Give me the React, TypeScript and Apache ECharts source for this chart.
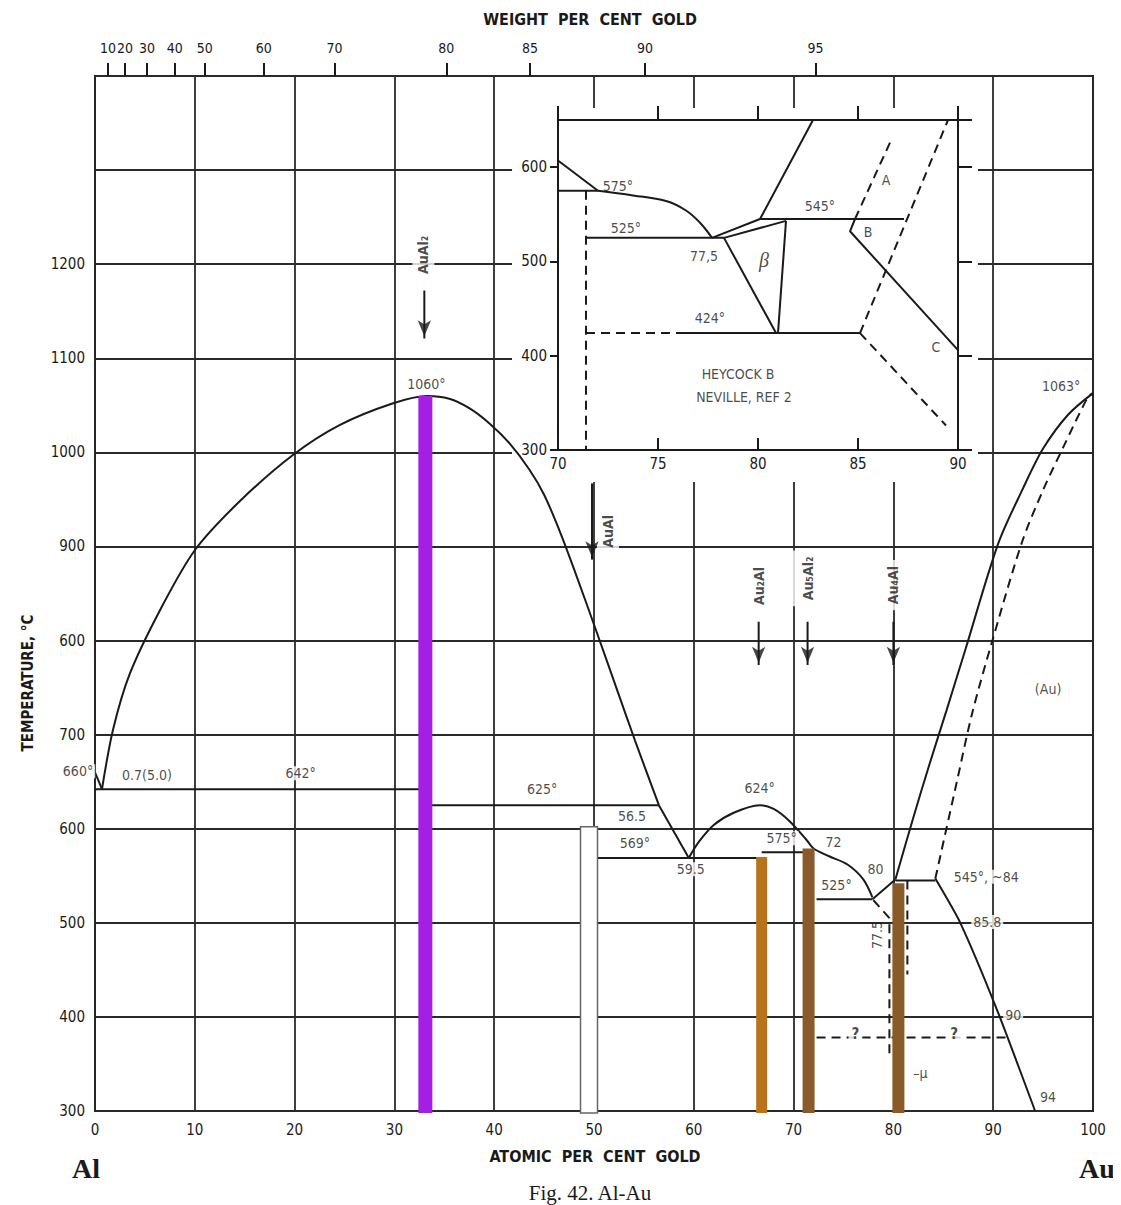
import React, { useEffect, useRef } from "react";
import * as echarts from "echarts";

const INK = "#1a1a1a";
const FONT = "'DejaVu Sans Condensed','DejaVu Sans',sans-serif";

// ---------- axes ----------
const yTickValues = [300, 400, 500, 600, 700, 800, 900, 1000, 1100, 1200];
const yTickLabels = ["300", "400", "500", "600", "700", "600", "900", "1000", "1100", "1200"];
const weightTickLabels = ["10", "20", "30", "40", "50", "60", "70", "80", "85", "90", "95"];
const weightTickAtomic = [1.3, 3.0, 5.2, 8.0, 11.0, 16.9, 24.0, 35.2, 43.6, 55.1, 72.2];

// ---------- main diagram lines (atomic % Au, °C) ----------
const liqAlStart = [[0, 660], [0.7, 642]];
const liqAuAl2 = [
  [0.7, 642], [1.8, 705], [3.5, 765], [6.5, 832], [10, 896], [14.5, 948], [19.8, 997],
  [24.5, 1029], [29.8, 1052], [33.3, 1060], [35.5, 1057], [37.5, 1047], [39.5, 1031],
  [41.5, 1010], [43.5, 982], [45, 955], [46.5, 918], [48, 876], [50.3, 808], [52.4, 745],
  [54.1, 694], [56.5, 625],
];
const liqAuAl = [[56.5, 625], [59.5, 569]];
const liqAu2Al = [
  [59.5, 569], [60.5, 586], [62, 604], [64, 617], [66.6, 625], [68, 621], [69.6, 608],
  [71.3, 588], [72, 579], [73.5, 571], [75.4, 562], [77, 546], [77.9, 527],
];
const liqEutUp = [[77.9, 525], [80.2, 546]];
const liqAu = [
  [80.2, 546], [82, 612], [83.6, 668], [85.3, 725], [87.2, 790], [90.5, 903], [93, 962],
  [95, 1004], [97.5, 1040], [100, 1063],
];
const solAuDashed = [
  [84.2, 547], [86.4, 652], [87.9, 723], [90, 803], [92.9, 905], [95, 960], [97, 1005],
  [99.5, 1059], [100, 1063],
];
const solvusAu = [[84.2, 547], [86.7, 500], [90.4, 407], [94.2, 300]];
const iso642 = [[0, 642], [33.1, 642]];
const iso625 = [[33.1, 625], [56.5, 625]];
const iso569 = [[50.4, 569], [66.8, 569]];
const iso575 = [[66.8, 575], [72, 575]];
const iso525 = [[72.3, 525], [77.9, 525]];
const iso545 = [[80.2, 545], [84.2, 545]];
const isoQuery = [[72.3, 378], [91.4, 378]];
const muLeftDashed = [[78, 524], [79.6, 505], [79.6, 360]];
const muRightDashed = [[81.4, 545], [81.4, 445]];

// compounds (vertical bars)
const compoundX = [33.1, 49.5, 66.8, 71.5, 80.5];
const compoundTop = [1060, 602, 570, 579, 542];

// compound arrows: x, top of shaft, tip
const arrowX = [33.0, 49.8, 66.5, 71.4, 80.0];
const arrowTop = [1172, 967, 820, 820, 820];
const arrowTip = [1115, 880, 768, 768, 768];

// labels
const compoundNames = ["AuAl₂", "AuAl", "Au₂Al", "Au₅Al₂", "Au₄Al"];
const compoundLabelX = [32.9, 51.4, 66.5, 71.4, 80.0];
const compoundLabelY = [1210, 916, 858, 866, 859];

const mainTexts = ["1060°", "1063°", "660°", "0.7(5.0)", "642°", "625°", "56.5", "569°", "59.5", "624°", "575°", "72", "80", "525°", "545°, ~84", "85.8", "90", "94", "–μ", "(Au)"];
const mainTextX = [33.2, 96.8, -1.7, 5.2, 20.6, 44.8, 53.8, 54.1, 59.7, 66.6, 68.8, 74.0, 78.2, 74.3, 89.3, 89.4, 92.0, 95.5, 82.7, 95.5];
const mainTextY = [1073, 1071, 661, 657, 659, 642, 614, 585, 557, 643, 590, 586, 557, 540, 549, 501, 402, 315, 340, 749];
const queryTexts = ["?", "?"];
const queryTextX = [76.2, 86.1];
const queryTextY = [382, 382];
const rotatedTexts = ["77.5"];
const rotatedTextX = [78.4];
const rotatedTextY = [487];

// ---------- inset (Heycock & Neville) ----------
const inLiqA = [[70, 607], [72, 575]];
const inLiqB = [[72, 575], [73.75, 570], [75.4, 564], [76.4, 554], [77.1, 541], [77.7, 525]];
const in575 = [[70, 575], [72, 575]];
const inDashV = [[71.4, 575], [71.4, 300]];
const in525 = [[71.4, 525], [78.3, 525]];
const inUp1 = [[77.7, 525], [80.1, 545]];
const inUp2 = [[78.3, 525], [81.4, 543]];
const in545 = [[80.1, 545], [87.3, 545]];
const inLiqUp = [[80.1, 545], [82.75, 650]];
const inBetaL = [[78.3, 525], [80.9, 424]];
const inBetaR = [[81.4, 543], [81.0, 424]];
const in424Dash = [[71.4, 424], [76, 424]];
const in424 = [[76, 424], [85.1, 424]];
const inDashUp = [[85.1, 424], [89.5, 650]];
const inDashDown = [[85.1, 424], [89.4, 326]];
const inDashA = [[86.6, 626], [84.85, 545]];
const inBC = [[84.85, 545], [84.6, 532], [90, 406]];
const insetTexts = ["575°", "525°", "77,5", "545°", "424°", "A", "B", "C", "HEYCOCK B", "NEVILLE, REF 2"];
const insetTextX = [73.0, 73.4, 77.3, 83.1, 77.6, 86.4, 85.5, 88.9, 79.0, 79.3];
const insetTextY = [580, 535, 506, 559, 440, 586, 531, 409, 381, 356];

// ---------- styles ----------
const barFill = ["#a41fe3", "#ffffff", "#b8741c", "#8a5a2a", "#8a5a2a"];
const barStroke = ["#a41fe3", "#666666", "#b8741c", "#8a5a2a", "#8a5a2a"];
const barWidth = [14, 17, 11, 12, 12];

const line = (data: number[][], opts: any = {}) => ({
  type: "line",
  data,
  symbol: "none",
  showSymbol: false,
  silent: true,
  xAxisIndex: opts.inset ? 2 : 0,
  yAxisIndex: opts.inset ? 1 : 0,
  smooth: opts.smooth || false,
  z: opts.inset ? 12 : 6,
  lineStyle: {
    color: INK,
    width: opts.width || 2,
    type: opts.dashed ? [9, 6] : "solid",
    cap: "butt",
  },
});

const textSeries = (names: string[], xs: number[], ys: number[], opts: any = {}) => ({
  type: "scatter",
  xAxisIndex: opts.inset ? 2 : 0,
  yAxisIndex: opts.inset ? 1 : 0,
  symbolSize: 1,
  itemStyle: { color: "rgba(0,0,0,0)" },
  silent: true,
  clip: false,
  z: opts.z || (opts.inset ? 13 : 8),
  data: names.map((n, i) => ({ name: n, value: [xs[i], ys[i]] })),
  label: {
    show: true,
    position: "inside",
    formatter: "{b}",
    color: INK,
    fontSize: opts.fontSize || 14,
    fontFamily: opts.fontFamily || FONT,
    fontStyle: opts.fontStyle || "normal",
    fontWeight: opts.fontWeight || "normal",
    backgroundColor: opts.bg === false ? "transparent" : "#fff",
    padding: opts.padding || [0, 2],
    rotate: opts.rotate || 0,
  },
});

export default function App() {
  const ref = useRef<HTMLDivElement>(null);
  useEffect(() => {
    if (!ref.current) return;
    const chart = echarts.init(ref.current, undefined, { renderer: "svg" });

    const weightMap = new Map<number, string>();
    weightTickAtomic.forEach((v, i) => weightMap.set(v, weightTickLabels[i]));
    const yMap = new Map<number, string>();
    yTickValues.forEach((v, i) => yMap.set(v, yTickLabels[i]));

    const series: any[] = [
      line(liqAlStart),
      line(liqAuAl2, { smooth: 0.3 }),
      line(liqAuAl),
      line(liqAu2Al, { smooth: 0.3 }),
      line(liqEutUp),
      line(liqAu, { smooth: 0.3 }),
      line(solAuDashed, { smooth: 0.3, dashed: true }),
      line(solvusAu, { smooth: 0.2 }),
      line(iso642),
      line(iso625),
      line(iso569),
      line(iso575),
      line(iso525),
      line(iso545),
      line(isoQuery, { dashed: true }),
      line(muLeftDashed, { dashed: true }),
      line(muRightDashed, { dashed: true }),
      {
        type: "custom",
        xAxisIndex: 0,
        yAxisIndex: 0,
        silent: true,
        z: 7,
        data: compoundX.map((x, i) => [x, compoundTop[i], i]),
        renderItem: (params: any, api: any) => {
          const i = api.value(2);
          const top = api.coord([api.value(0), api.value(1)]);
          const bot = api.coord([api.value(0), 300]);
          const w = barWidth[i];
          return {
            type: "rect",
            shape: { x: top[0] - w / 2, y: top[1], width: w, height: bot[1] - top[1] + 2 },
            style: { fill: barFill[i], stroke: barStroke[i], lineWidth: i === 1 ? 1.5 : 0 },
          };
        },
      },
      // compound labels (rotated)
      textSeries(compoundNames.slice(0, 1), compoundLabelX.slice(0, 1), compoundLabelY.slice(0, 1), { rotate: 90, fontSize: 14, fontWeight: "bold", padding: [4, 4], z: 8 }),
      textSeries(compoundNames.slice(1, 2), compoundLabelX.slice(1, 2), compoundLabelY.slice(1, 2), { rotate: 90, fontSize: 14, fontWeight: "bold", padding: [4, 4], z: 8 }),
      textSeries(compoundNames.slice(2), compoundLabelX.slice(2), compoundLabelY.slice(2), { rotate: 90, fontSize: 14, fontWeight: "bold", padding: [12, 6], z: 8 }),
      textSeries(mainTexts, mainTextX, mainTextY, { fontSize: 14 }),
      textSeries(queryTexts, queryTextX, queryTextY, { fontSize: 15, fontWeight: "bold", padding: [0, 3] }),
      textSeries(rotatedTexts, rotatedTextX, rotatedTextY, { rotate: 90, fontSize: 14, bg: false }),
      // inset
      line(inLiqA, { inset: true }),
      line(inLiqB, { inset: true, smooth: 0.4 }),
      line(in575, { inset: true }),
      line(inDashV, { inset: true, dashed: true }),
      line(in525, { inset: true }),
      line(inUp1, { inset: true }),
      line(inUp2, { inset: true }),
      line(in545, { inset: true }),
      line(inLiqUp, { inset: true }),
      line(inBetaL, { inset: true }),
      line(inBetaR, { inset: true }),
      line(in424Dash, { inset: true, dashed: true }),
      line(in424, { inset: true }),
      line(inDashUp, { inset: true, dashed: true }),
      line(inDashDown, { inset: true, dashed: true }),
      line(inDashA, { inset: true, dashed: true }),
      line(inBC, { inset: true }),
      textSeries(insetTexts, insetTextX, insetTextY, { inset: true, fontSize: 14, bg: false }),
      textSeries(["β"], [80.3], [501], { inset: true, fontSize: 20, fontStyle: "italic", fontFamily: "'Liberation Serif',serif", bg: false }),
    ];

    // arrows
    arrowX.forEach((x, i) => {
      series.push({ ...line([[x, arrowTop[i]], [x, arrowTip[i] + 6]]), z: 9 });
    });
    series.push({
      type: "scatter",
      xAxisIndex: 0,
      yAxisIndex: 0,
      silent: true,
      z: 9,
      symbol: "arrow",
      symbolSize: [10, 16],
      symbolRotate: 180,
      symbolOffset: [0, -8],
      itemStyle: { color: INK },
      data: arrowX.map((x, i) => [x, arrowTip[i]]),
    });

    const option: any = {
      animation: false,
      backgroundColor: "#fff",
      textStyle: { fontFamily: FONT },
      grid: [
        { left: 95, right: 28, top: 76, bottom: 94, show: true, borderColor: INK, borderWidth: 2, backgroundColor: "transparent" },
        { left: 558, right: 163, top: 120, bottom: 755, show: true, borderColor: INK, borderWidth: 2, backgroundColor: "#fff", z: 10 },
      ],
      xAxis: [
        {
          type: "value", gridIndex: 0, min: 0, max: 100, interval: 10, position: "bottom",
          axisLine: { show: false }, axisTick: { show: false },
          axisLabel: { fontSize: 15, color: INK, margin: 11, fontFamily: FONT },
          splitLine: { show: true, lineStyle: { color: "#2a2a2a", width: 1.8 } },
        },
        {
          type: "value", gridIndex: 0, min: 0, max: 100, position: "top",
          axisLine: { show: false },
          axisTick: { show: true, inside: false, length: 13, customValues: weightTickAtomic, lineStyle: { color: INK, width: 2 } },
          axisLabel: {
            show: true, customValues: weightTickAtomic, fontSize: 14, color: INK, margin: 21, fontFamily: FONT,
            showMinLabel: true, showMaxLabel: true, hideOverlap: false, interval: 0,
            formatter: (v: number) => weightMap.get(v) ?? "",
          },
          splitLine: { show: false },
        },
        {
          type: "value", gridIndex: 1, min: 70, max: 90, interval: 5, position: "bottom", z: 10,
          axisLine: { show: false },
          axisTick: { show: true, inside: true, length: 12, lineStyle: { color: INK, width: 2 } },
          axisLabel: { fontSize: 15, color: INK, margin: 6, fontFamily: FONT },
          splitLine: { show: false },
        },
        {
          type: "value", gridIndex: 1, min: 70, max: 90, interval: 5, position: "top", z: 10,
          axisLine: { show: false },
          axisTick: { show: true, inside: false, length: 14, lineStyle: { color: INK, width: 2 } },
          axisLabel: { show: false },
          splitLine: { show: false },
        },
      ],
      yAxis: [
        {
          type: "value", gridIndex: 0, min: 300, max: 1400, interval: 100,
          axisLine: { show: false }, axisTick: { show: false },
          axisLabel: {
            fontSize: 15, color: INK, margin: 10, fontFamily: FONT,
            formatter: (v: number) => yMap.get(v) ?? "",
          },
          splitLine: { show: true, lineStyle: { color: "#2a2a2a", width: 1.8 } },
        },
        {
          type: "value", gridIndex: 1, min: 300, max: 650, interval: 100, position: "left", z: 10,
          axisLine: { show: false },
          axisTick: { show: true, inside: false, length: 8, lineStyle: { color: INK, width: 2 } },
          axisLabel: { fontSize: 15, color: INK, margin: 11, showMaxLabel: false, fontFamily: FONT, formatter: (v: number) => (v === 650 ? "" : String(v)) },
          splitLine: { show: false },
        },
        {
          type: "value", gridIndex: 1, min: 300, max: 650, interval: 100, position: "right", z: 10,
          axisLine: { show: false },
          axisTick: { show: true, inside: false, length: 14, lineStyle: { color: INK, width: 2 } },
          axisLabel: { show: false },
          splitLine: { show: false },
        },
      ],
      graphic: [
        { type: "rect", z: 5, silent: true, shape: { x: 512, y: 108, width: 466, height: 374 }, style: { fill: "#fff" } },
        { type: "text", x: 590, y: 19, style: { text: "WEIGHT  PER  CENT  GOLD", font: `bold 16px ${FONT}`, fill: INK, align: "center", verticalAlign: "middle" } },
        { type: "text", x: 595, y: 1156, style: { text: "ATOMIC  PER  CENT  GOLD", font: `bold 16px ${FONT}`, fill: INK, align: "center", verticalAlign: "middle" } },
        { type: "text", x: 28, y: 683, rotation: Math.PI / 2, style: { text: "TEMPERATURE, °C", font: `bold 15px ${FONT}`, fill: INK, align: "center", verticalAlign: "middle" } },
        { type: "text", x: 86, y: 1168, style: { text: "Al", font: "bold 28px 'Liberation Serif', serif", fill: INK, align: "center", verticalAlign: "middle" } },
        { type: "text", x: 1097, y: 1168, style: { text: "Au", font: "bold 28px 'Liberation Serif', serif", fill: INK, align: "center", verticalAlign: "middle" } },
        { type: "text", x: 590, y: 1193, style: { text: "Fig. 42. Al-Au", font: "21px 'Liberation Serif', serif", fill: INK, align: "center", verticalAlign: "middle" } },
      ],
      series,
    };
    chart.setOption(option);
    return () => chart.dispose();
  }, []);
  return <div ref={ref} style={{ width: 1121, height: 1205, marginLeft: -8, marginTop: -8 }} />;
}
